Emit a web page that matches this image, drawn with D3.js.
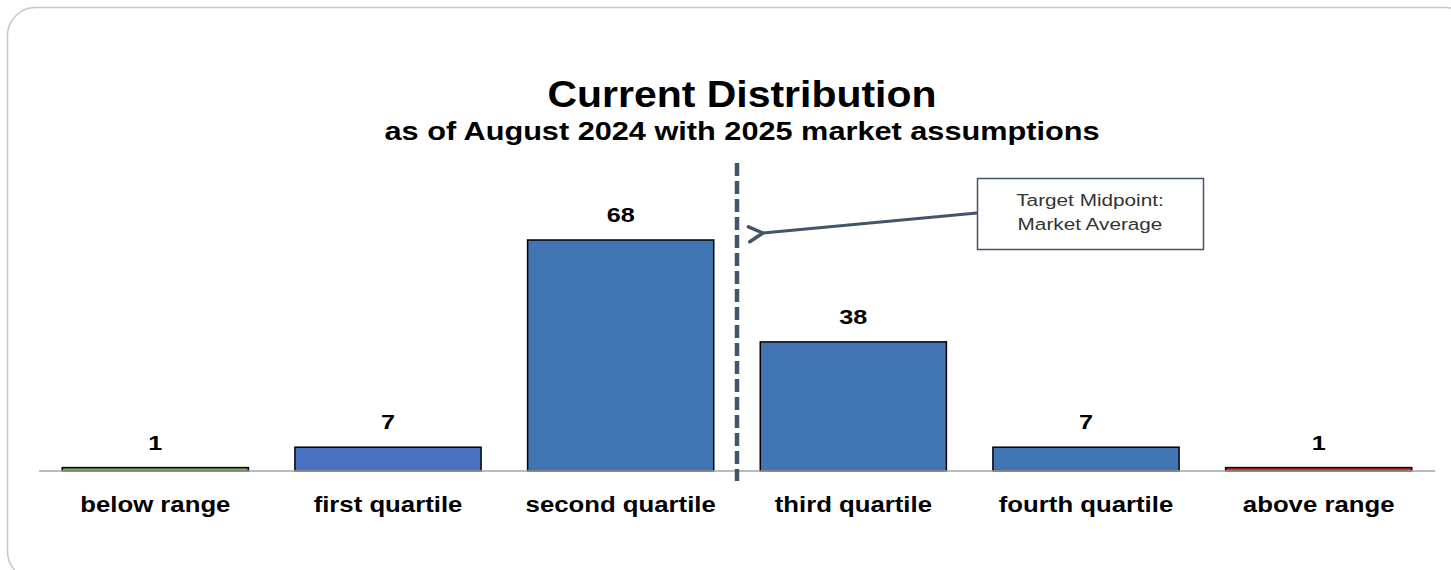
<!DOCTYPE html>
<html>
<head>
<meta charset="utf-8">
<script src="https://cdn.jsdelivr.net/npm/d3@7"></script>
<style>
  body { margin: 0; background: #fff; }
  svg { display: block; font-family: "Liberation Sans", Arial, sans-serif; }
</style>
</head>
<body>
<div id="chart"></div>
<script>
const width = 1451;
const height = 570;

// Data
const categories = ["below range", "first quartile", "second quartile", "third quartile", "fourth quartile", "above range"];
const counts = [1, 7, 68, 38, 7, 1];
const barColors = ["#72b043", "#4a72c0", "#4175b3", "#4175b3", "#4175b3", "#e8261c"];
const titleText = "Current Distribution";
const subtitleText = "as of August 2024 with 2025 market assumptions";
const noteLines = ["Target Midpoint:", "Market Average"];

const baseline = 471;
const lineColor = "#44546a";
const stretch = 1.17; // the source text is rendered wider than Arial

// Scales
const x = d3.scaleBand().domain(categories).range([39, 1435]).paddingInner(0.2).paddingOuter(0.1);
const y = d3.scaleLinear().domain([0, 68]).range([baseline, 240]);

const svg = d3.select("#chart").append("svg")
    .attr("width", width)
    .attr("height", height);

// card outline
svg.append("rect")
    .attr("x", 7.5).attr("y", 7.5)
    .attr("width", 1466).attr("height", 572)
    .attr("rx", 28)
    .attr("fill", "#fff")
    .attr("stroke", "#c8c8c8")
    .attr("stroke-width", 1.5);

// Titles
svg.append("text")
    .attr("x", 742).attr("y", 107)
    .attr("text-anchor", "middle")
    .attr("font-size", 37).attr("font-weight", "bold")
    .attr("textLength", 389).attr("lengthAdjust", "spacingAndGlyphs")
    .text(titleText);

svg.append("text")
    .attr("x", 742).attr("y", 140)
    .attr("text-anchor", "middle")
    .attr("font-size", 25).attr("font-weight", "bold")
    .attr("textLength", 715).attr("lengthAdjust", "spacingAndGlyphs")
    .text(subtitleText);

// Bars
svg.selectAll(".bar")
    .data(categories)
    .enter()
    .append("rect")
    .attr("class", "bar")
    .attr("x", d => x(d))
    .attr("width", x.bandwidth())
    .attr("y", (d, i) => y(counts[i]))
    .attr("height", (d, i) => baseline - y(counts[i]))
    .attr("fill", (d, i) => barColors[i])
    .attr("stroke", "#000")
    .attr("stroke-width", 1.5);

// Axis line
svg.append("line")
    .attr("x1", x.range()[0]).attr("x2", x.range()[1])
    .attr("y1", baseline).attr("y2", baseline)
    .attr("stroke", "#a6a6a6")
    .attr("stroke-width", 1.5);

// Value labels
svg.selectAll(".val")
    .data(categories)
    .enter()
    .append("text")
    .attr("class", "val")
    .attr("transform", (d, i) => `translate(${x(d) + x.bandwidth() / 2},${y(counts[i]) - 18}) scale(1.2,1)`)
    .attr("text-anchor", "middle")
    .attr("font-size", 21).attr("font-weight", "bold")
    .text((d, i) => counts[i]);

// Category labels
svg.selectAll(".cat")
    .data(categories)
    .enter()
    .append("text")
    .attr("class", "cat")
    .attr("transform", d => `translate(${x(d) + x.bandwidth() / 2},512) scale(${stretch},1)`)
    .attr("text-anchor", "middle")
    .attr("font-size", 22).attr("font-weight", "bold")
    .text(d => d);

// Midpoint dashed line between second and third quartile
const midX = (x("second quartile") + x.bandwidth() + x("third quartile")) / 2;
svg.append("line")
    .attr("x1", midX).attr("x2", midX)
    .attr("y1", 163).attr("y2", 481)
    .attr("stroke", lineColor)
    .attr("stroke-width", 4.5)
    .attr("stroke-dasharray", "13,5");

// Note box
svg.append("rect")
    .attr("x", 977.5).attr("y", 178.5)
    .attr("width", 226).attr("height", 71)
    .attr("fill", "#fff")
    .attr("stroke", lineColor)
    .attr("stroke-width", 1.5);

svg.selectAll(".note")
    .data(noteLines)
    .enter()
    .append("text")
    .attr("class", "note")
    .attr("transform", (d, i) => `translate(1090,${206 + i * 24}) scale(1.22,1)`)
    .attr("text-anchor", "middle")
    .attr("font-size", 17)
    .attr("fill", "#333")
    .text(d => d);

// Arrow
svg.append("defs").append("marker")
    .attr("id", "arrow")
    .attr("viewBox", "0 0 20 20")
    .attr("refX", 3).attr("refY", 10)
    .attr("markerWidth", 20).attr("markerHeight", 20)
    .attr("markerUnits", "userSpaceOnUse")
    .attr("orient", "auto")
    .append("path")
    .attr("d", "M17,2.5 L3,10 L17,17.5")
    .attr("fill", "none")
    .attr("stroke", lineColor)
    .attr("stroke-width", 3.5)
    .attr("stroke-linecap", "round")
    .attr("stroke-linejoin", "round");

svg.append("line")
    .attr("x1", 977).attr("y1", 213)
    .attr("x2", 763).attr("y2", 233)
    .attr("stroke", lineColor)
    .attr("stroke-width", 3)
    .attr("marker-end", "url(#arrow)");
</script>
</body>
</html>
